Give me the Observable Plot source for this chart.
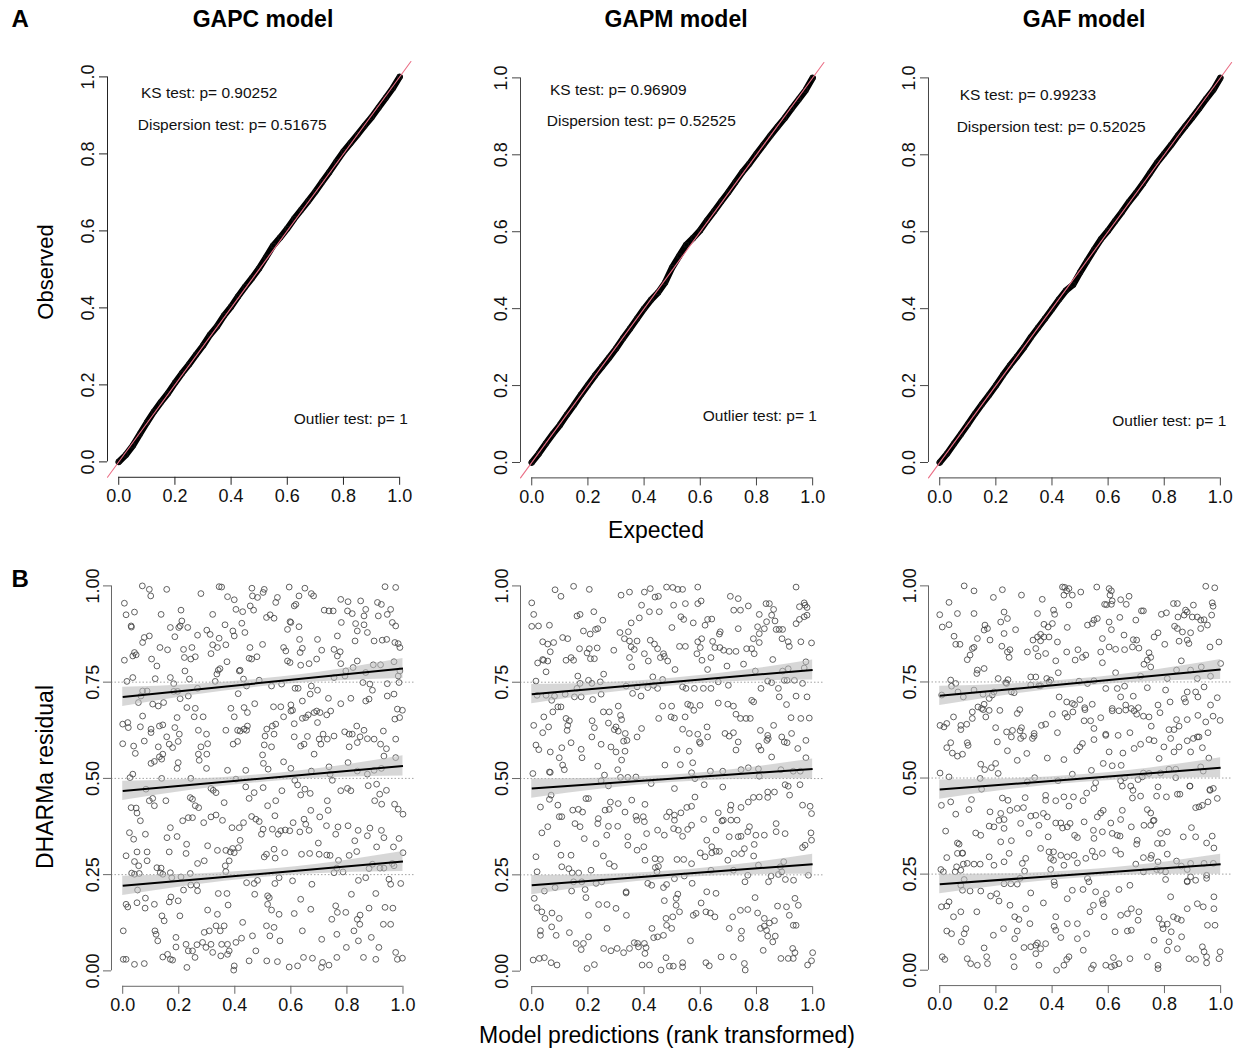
<!DOCTYPE html>
<html><head><meta charset="utf-8">
<script src="https://cdn.jsdelivr.net/npm/d3@7"></script>
<script src="https://cdn.jsdelivr.net/npm/@observablehq/plot@0.6"></script>
<style>
body{margin:0;background:#fff;}
#fig{position:relative;width:1237px;height:1059px;overflow:hidden;background:#fff;}
#fig svg{position:absolute;}
</style></head><body><div id="fig"></div>
<script>
// ---------------- DATA ----------------
const models = ["GAPC model", "GAPM model", "GAF model"];
const ksP = ["0.90252", "0.96909", "0.99233"];
const dispP = ["0.51675", "0.52525", "0.52025"];
const outlierP = ["1", "1", "1"];

const xTicks = [0, 0.2, 0.4, 0.6, 0.8, 1.0];
const yTicksTop = [0, 0.2, 0.4, 0.6, 0.8, 1.0];
const yTicksBottom = [0, 0.25, 0.5, 0.75, 1.0];
const quantiles = [0.25, 0.5, 0.75];

const qqExpected = [0,0.025,0.05,0.075,0.1,0.125,0.15,0.175,0.2,0.225,0.25,0.275,0.3,0.325,0.35,0.375,0.4,0.425,0.45,0.475,0.5,0.525,0.55,0.575,0.6,0.625,0.65,0.675,0.7,0.725,0.75,0.775,0.8,0.825,0.85,0.875,0.9,0.925,0.95,0.975,1];
const qqObsGAPC = [0,.018,.042,.072,.102,.13,.155,.178,.205,.23,.253,.278,.302,.33,.352,.38,.403,.43,.455,.478,.503,.532,.562,.583,.606,.632,.655,.678,.702,.728,.753,.78,.806,.828,.85,.873,.895,.92,.945,.97,1.0];
const qqObsGAPM = [0,.023,.049,.074,.097,.124,.149,.176,.201,.226,.249,.272,.296,.323,.348,.374,.400,.423,.442,.468,.507,.537,.566,.584,.604,.630,.654,.679,.703,.729,.755,.777,.802,.826,.850,.873,.895,.92,.944,.968,1.0];
const qqObsGAF = [0,.022,.048,.073,.099,.126,.151,.175,.2,.227,.252,.275,.299,.326,.35,.374,.399,.424,.447,.462,.494,.524,.553,.581,.603,.628,.652,.678,.701,.726,.753,.78,.803,.826,.851,.874,.897,.921,.946,.969,1.0];

// Quantile regression lines: fitted value at x=0 and x=1 for q = .25, .5, .75
const qStartGAPC = [0.221, 0.4675, 0.7117], qEndGAPC = [0.284, 0.5325, 0.7853];
const qStartGAPM = [0.2232, 0.474, 0.7189], qEndGAPM = [0.2777, 0.525, 0.782];
const qStartGAF  = [0.2238, 0.4701, 0.7138], qEndGAF  = [0.2758, 0.5265, 0.7823];
// confidence band half-width along x
const bandX = [0, 0.25, 0.5, 0.75, 1];
const bandHalf = [0.025, 0.014, 0.010, 0.014, 0.026];

// DHARMa scaled residuals vs rank-transformed predictions
const resGAPC = [[.07,1.0],[.095,.991],[.10,.974],[.157,.991],[.279,.98],[.344,.998],[.353,.997],[.374,.972],[.398,.964],[.461,.994],[.463,.974],[.481,.97],[.505,.991],[.501,.983],[.546,.957],[.552,.97],[.594,.997],[.629,.974],[.65,.994],[.673,.98],[.681,.974],[.778,.965],[.804,.959],[.849,.961],[.909,.957],[.923,.952],[.936,.998],[.974,.996],[.006,.955],
[.012,.925],[.042,.932],[.03,.896],[.031,.893],[.137,.926],[.208,.937],[.321,.926],[.404,.939],[.428,.933],[.455,.948],[.467,.937],[.513,.918],[.526,.925],[.54,.916],[.612,.948],[.618,.952],[.597,.907],[.6,.905],[.719,.937],[.736,.935],[.751,.935],[.802,.935],[.819,.928],[.867,.939],[.861,.922],[.912,.922],[.944,.926],[.956,.939],[.962,.905],[.974,.896],[.211,.909],[.205,.896],
[.17,.892],[.2,.892],[.232,.892],[.3,.885],[.312,.874],[.344,.864],[.365,.899],[.393,.883],[.398,.87],[.425,.903],[.436,.879],[.588,.887],[.629,.894],[.78,.905],[.831,.902],[.837,.883],[.861,.899],[.873,.879],[.897,.857],[.926,.859],[.942,.861],[.971,.853],[.983,.85],[.077,.866],[.095,.87],[.186,.868],[.267,.872],[.071,.853],[.631,.861],[.695,.861],[.766,.87],[.829,.857],
[.006,.807],[.036,.818],[.042,.827],[.048,.821],[.103,.81],[.122,.792],[.133,.84],[.16,.834],[.217,.835],[.22,.814],[.247,.84],[.243,.81],[.259,.816],[.315,.824],[.321,.847],[.338,.84],[.368,.847],[.372,.803],[.416,.779],[.419,.781],[.454,.84],[.451,.812],[.46,.81],[.479,.816],[.499,.848],[.574,.84],[.582,.831],[.588,.805],[.597,.801],[.633,.827],[.641,.838],[.635,.794],[.665,.798],[.692,.81],[.71,.833],[.754,.835],[.766,.818],[.776,.829],[.778,.798],[.837,.805],[.894,.795],[.92,.795],[.968,.803],[.989,.84],
[.015,.752],[.036,.762],[.116,.759],[.17,.762],[.182,.746],[.222,.779],[.238,.758],[.33,.752],[.336,.771],[.341,.781],[.347,.785],[.431,.758],[.442,.74],[.487,.755],[.531,.74],[.567,.745],[.615,.734],[.626,.734],[.673,.74],[.754,.762],[.793,.766],[.796,.779],[.822,.788],[.867,.775],[.857,.749],[.882,.745],[.944,.746],[.986,.749],[.983,.766],[.989,.779],
[.071,.727],[.087,.727],[.065,.714],[.056,.697],[.107,.693],[.127,.688],[.146,.697],[.182,.726],[.196,.726],[.205,.707],[.234,.714],[.267,.734],[.412,.72],[.471,.694],[.538,.686],[.564,.686],[.6,.691],[.606,.677],[.641,.701],[.669,.719],[.695,.729],[.734,.708],[.778,.694],[.814,.708],[.867,.701],[.879,.706],[.891,.729],[.944,.714],[.968,.719],[.998,.677],[.229,.684],[.259,.682],[.386,.682],[.433,.684],[.445,.671],
[.071,.662],[.0,.641],[.018,.645],[.02,.632],[.063,.634],[.101,.628],[.131,.636],[.143,.639],[.157,.608],[.186,.632],[.194,.658],[.255,.66],[.287,.66],[.27,.625],[.299,.615],[.368,.625],[.398,.66],[.419,.623],[.445,.636],[.442,.625],[.514,.628],[.534,.636],[.546,.641],[.574,.66],[.6,.675],[.612,.642],[.641,.656],[.653,.658],[.662,.665],[.683,.671],[.692,.675],[.704,.671],[.728,.665],[.742,.675],[.695,.645],[.659,.609],[.715,.615],[.808,.615],[.819,.615],[.835,.636],[.792,.621],[.861,.625],[.847,.608],[.93,.623],[.971,.654],[.988,.658],[.98,.68],
[.0,.59],[.039,.584],[.045,.565],[.077,.597],[.101,.619],[.127,.582],[.131,.556],[.166,.589],[.178,.58],[.198,.596],[.202,.615],[.279,.582],[.303,.59],[.3,.563],[.27,.563],[.273,.547],[.394,.589],[.41,.596],[.41,.625],[.433,.628],[.508,.61],[.505,.587],[.531,.582],[.54,.615],[.612,.608],[.635,.584],[.647,.589],[.683,.563],[.701,.602],[.707,.589],[.73,.602],[.754,.61],[.808,.582],[.837,.593],[.873,.603],[.897,.602],[.92,.589],[.941,.577],[.974,.602],[.974,.554],[.143,.563],[.139,.55],[.113,.544],[.101,.539],
[.036,.511],[.026,.502],[.139,.5],[.198,.541],[.194,.526],[.243,.5],[.299,.526],[.374,.521],[.404,.498],[.439,.521],[.499,.561],[.502,.539],[.519,.524],[.574,.543],[.6,.526],[.614,.495],[.673,.519],[.736,.53],[.74,.511],[.748,.495],[.804,.541],[.837,.519],[.873,.511],[.897,.521],[.923,.526],[.932,.558],[.083,.472],
[.03,.424],[.048,.423],[.051,.41],[.095,.442],[.107,.448],[.113,.429],[.154,.442],[.241,.45],[.249,.446],[.259,.429],[.271,.424],[.315,.474],[.323,.469],[.333,.463],[.362,.437],[.439,.478],[.451,.448],[.469,.463],[.501,.476],[.517,.429],[.546,.442],[.568,.468],[.624,.483],[.635,.457],[.65,.472],[.669,.461],[.73,.442],[.778,.468],[.802,.474],[.814,.468],[.876,.481],[.906,.485],[.941,.469],[.917,.459],[.899,.442],[.924,.433],[.97,.433],[.983,.42],[1.0,.407],
[.063,.39],[.024,.359],[.039,.342],[.081,.355],[.158,.346],[.17,.372],[.194,.349],[.214,.39],[.234,.398],[.249,.398],[.289,.385],[.315,.4],[.333,.405],[.356,.391],[.39,.372],[.431,.385],[.46,.401],[.475,.394],[.487,.388],[.501,.368],[.495,.355],[.534,.368],[.543,.403],[.555,.355],[.564,.364],[.58,.366],[.596,.364],[.608,.385],[.647,.394],[.653,.381],[.665,.365],[.671,.417],[.703,.4],[.733,.417],[.727,.377],[.768,.374],[.804,.377],[.84,.365],[.882,.371],[.923,.365],[.873,.351],[.932,.346],[.986,.344],[.76,.355],[.632,.361],[.416,.372],
[.012,.299],[.051,.309],[.057,.273],[.042,.284],[.087,.286],[.087,.309],[.166,.309],[.228,.329],[.226,.305],[.267,.279],[.291,.286],[.303,.325],[.338,.313],[.368,.313],[.384,.309],[.392,.318],[.38,.286],[.398,.307],[.413,.32],[.419,.339],[.505,.296],[.513,.303],[.54,.316],[.544,.293],[.578,.307],[.638,.303],[.667,.305],[.698,.332],[.701,.303],[.728,.301],[.74,.3],[.77,.287],[.808,.3],[.835,.31],[.828,.338],[.906,.322],[.966,.322],[1.0,.307],[.962,.279],[.932,.267],[.968,.273],[.918,.267],[.891,.277],
[.032,.254],[.042,.251],[.059,.253],[.122,.268],[.137,.267],[.134,.255],[.143,.251],[.17,.255],[.175,.242],[.208,.244],[.241,.253],[.243,.223],[.264,.223],[.267,.208],[.368,.258],[.366,.273],[.442,.229],[.469,.227],[.481,.235],[.517,.195],[.543,.227],[.558,.242],[.606,.234],[.675,.225],[.754,.255],[.764,.267],[.786,.257],[.841,.235],[.867,.242],[.879,.266],[.95,.238],[.956,.225],[.992,.227],[.053,.21],[.217,.21],
[.018,.166],[.012,.173],[.051,.177],[.081,.189],[.08,.163],[.113,.173],[.14,.143],[.148,.13],[.166,.179],[.172,.192],[.198,.182],[.204,.143],[.303,.158],[.341,.201],[.372,.201],[.376,.171],[.338,.147],[.428,.126],[.471,.199],[.523,.19],[.517,.173],[.531,.158],[.558,.147],[.612,.149],[.635,.186],[.671,.16],[.746,.134],[.76,.169],[.766,.152],[.796,.152],[.816,.199],[.879,.163],[.903,.201],[.936,.165],[.964,.163],[.837,.134],[.847,.145],
[.002,.104],[.042,.017],[.115,.104],[.119,.095],[.125,.078],[.19,.087],[.19,.062],[.226,.069],[.234,.052],[.258,.035],[.265,.068],[.291,.1],[.309,.104],[.333,.117],[.362,.117],[.348,.104],[.285,.074],[.315,.069],[.321,.048],[.353,.069],[.38,.052],[.404,.074],[.424,.085],[.398,.013],[.396,.002],[.463,.091],[.475,.052],[.513,.117],[.525,.091],[.54,.113],[.561,.078],[.641,.104],[.71,.082],[.713,.022],[.709,.009],[.764,.095],[.798,.061],[.825,.104],[.841,.078],[.846,.121],[.887,.087],[.914,.061],[.93,.121],[.956,.121],[.974,.048],[.98,.03],[.998,.033],[.002,.03],[.012,.03],[.077,.019],[.16,.043],[.17,.03],[.178,.028],[.229,.009],[.297,.061],[.35,.039],[.374,.043],[.374,.069],[.451,.026],[.514,.026],[.552,.024],[.594,.01],[.624,.013],[.645,.035],[.677,.033],[.736,.015],[.764,.035],[.859,.035],[.903,.03],[.143,.036],[.249,.052]];

const resGAPM = [[.083,.99],[.104,.973],[.149,.999],[.205,.991],[.318,.976],[.348,.984],[.401,.984],[.422,.993],[.439,.971],[.451,.973],[.48,.997],[.502,.996],[.52,.991],[.537,.991],[.591,.997],[.591,.954],[.603,.961],[.707,.973],[.735,.967],[.771,.948],[.834,.954],[.846,.954],[.941,.997],[.0,.956],[.97,.956],[.973,.95],
[.007,.926],[.0,.895],[.024,.896],[.063,.898],[.161,.922],[.172,.926],[.221,.933],[.253,.911],[.235,.889],[.227,.887],[.184,.883],[.208,.875],[.391,.95],[.419,.933],[.454,.933],[.505,.95],[.547,.954],[.531,.92],[.541,.913],[.499,.892],[.575,.904],[.617,.898],[.626,.913],[.641,.914],[.719,.937],[.743,.937],[.671,.881],[.668,.875],[.81,.926],[.804,.894],[.836,.907],[.854,.924],[.861,.939],[.866,.909],[.893,.887],[.87,.887],[.941,.902],[.953,.913],[.97,.92],[.98,.924],[.953,.946],[.98,.944],[.314,.879],[.344,.881],[.354,.904],[.383,.917],
[.039,.855],[.057,.849],[.078,.853],[.066,.829],[.11,.866],[.128,.863],[.17,.837],[.197,.826],[.205,.837],[.233,.839],[.292,.833],[.33,.863],[.348,.857],[.354,.842],[.365,.835],[.375,.857],[.348,.814],[.401,.824],[.422,.859],[.437,.849],[.469,.824],[.448,.837],[.472,.817],[.526,.843],[.547,.843],[.591,.855],[.6,.84],[.605,.863],[.644,.856],[.652,.84],[.67,.84],[.683,.833],[.703,.83],[.727,.83],[.735,.889],[.765,.837],[.783,.837],[.789,.863],[.81,.853],[.81,.876],[.828,.889],[.881,.887],[.891,.863],[.917,.843],[.958,.855],[.996,.852],[.913,.855],[.039,.809],
[.021,.8],[.042,.807],[.057,.805],[.051,.777],[.122,.807],[.14,.814],[.149,.807],[.164,.766],[.209,.811],[.223,.811],[.202,.755],[.244,.751],[.256,.771],[.356,.79],[.415,.805],[.458,.814],[.484,.805],[.51,.783],[.588,.824],[.606,.807],[.626,.783],[.638,.814],[.695,.792],[.754,.797],[.792,.824],[.796,.779],[.858,.809],[.899,.755],[.893,.779],[.913,.785],[.935,.755],[.97,.787],[.976,.803],[.015,.753],[.172,.747],[.214,.747],[.431,.764],[.466,.757],
[.019,.716],[.051,.716],[.071,.703],[.081,.714],[.161,.734],[.176,.712],[.217,.705],[.247,.719],[.336,.74],[.359,.721],[.375,.738],[.389,.714],[.413,.736],[.434,.742],[.448,.734],[.537,.738],[.549,.734],[.579,.734],[.611,.734],[.638,.734],[.664,.751],[.7,.742],[.783,.703],[.79,.699],[.816,.734],[.84,.753],[.854,.749],[.881,.712],[.878,.734],[.909,.755],[.907,.692],[.941,.714],[.964,.747],[.98,.712],[.119,.719],[.152,.712],[.075,.673],[.093,.686],[.104,.686],[.466,.688],[.498,.688],[.555,.693],[.565,.69],[.577,.677],[.599,.69],[.664,.696],[.698,.693],[.718,.688],
[.007,.638],[.043,.66],[.06,.634],[.039,.619],[.122,.656],[.134,.65],[.128,.638],[.126,.625],[.14,.593],[.215,.65],[.255,.673],[.276,.673],[.273,.644],[.308,.688],[.316,.664],[.32,.653],[.3,.634],[.308,.623],[.333,.617],[.375,.608],[.391,.63],[.452,.656],[.496,.66],[.508,.657],[.546,.66],[.537,.628],[.561,.617],[.591,.615],[.597,.595],[.624,.634],[.626,.608],[.688,.617],[.718,.619],[.727,.667],[.743,.656],[.763,.656],[.778,.656],[.814,.625],[.84,.612],[.842,.604],[.861,.638],[.89,.608],[.909,.593],[.925,.617],[.923,.658],[.958,.656],[.988,.657],[.976,.599],[.223,.632],[.214,.608],[.247,.589],[.294,.627],
[.015,.587],[.025,.575],[.066,.569],[.107,.58],[.098,.554],[.11,.535],[.116,.523],[.176,.576],[.179,.554],[.063,.517],[.282,.582],[.3,.569],[.332,.571],[.327,.597],[.339,.599],[.517,.575],[.561,.571],[.6,.591],[.703,.61],[.727,.574],[.735,.595],[.808,.584],[.816,.574],[.837,.599],[.854,.556],[.899,.595],[.947,.578],[.976,.554],[.306,.523],[.32,.548],[.235,.532],
[.004,.513],[.066,.516],[.247,.494],[.259,.509],[.273,.481],[.316,.503],[.342,.503],[.371,.504],[.425,.487],[.474,.535],[.529,.536],[.569,.515],[.573,.541],[.581,.5],[.614,.484],[.636,.519],[.68,.519],[.68,.478],[.745,.523],[.771,.528],[.807,.525],[.81,.506],[.887,.523],[.931,.519],[.956,.519],[.955,.484],[.508,.474],
[.069,.457],[.031,.426],[.063,.446],[.093,.431],[.098,.401],[.146,.418],[.166,.42],[.181,.413],[.193,.448],[.202,.448],[.237,.396],[.261,.418],[.28,.439],[.276,.42],[.308,.435],[.332,.413],[.356,.444],[.403,.433],[.371,.402],[.397,.401],[.49,.413],[.508,.405],[.48,.401],[.508,.392],[.531,.411],[.552,.425],[.569,.428],[.581,.452],[.664,.411],[.677,.39],[.709,.431],[.707,.418],[.745,.425],[.771,.439],[.789,.451],[.81,.452],[.84,.451],[.84,.465],[.864,.465],[.902,.484],[.913,.48],[.918,.457],[.964,.431],[.991,.428],[.996,.409],
[.036,.359],[.057,.375],[.107,.401],[.154,.383],[.172,.375],[.187,.344],[.235,.383],[.267,.353],[.273,.376],[.306,.376],[.342,.349],[.374,.392],[.401,.388],[.409,.357],[.448,.366],[.472,.353],[.505,.37],[.522,.366],[.555,.368],[.537,.35],[.569,.379],[.612,.394],[.623,.34],[.682,.392],[.709,.392],[.731,.392],[.745,.35],[.769,.362],[.775,.375],[.798,.353],[.828,.353],[.87,.362],[.902,.357],[.87,.383],[.994,.359],[.996,.34],[.656,.366],[.703,.349],[.735,.349],
[.015,.297],[.09,.331],[.104,.301],[.14,.301],[.229,.331],[.255,.299],[.276,.279],[.294,.272],[.342,.327],[.375,.314],[.399,.323],[.403,.288],[.439,.292],[.458,.29],[.451,.272],[.517,.29],[.541,.29],[.569,.279],[.6,.307],[.617,.297],[.641,.323],[.641,.307],[.656,.311],[.668,.311],[.698,.288],[.721,.305],[.747,.305],[.757,.318],[.79,.299],[.885,.271],[.897,.284],[.792,.329],[.973,.327],[.964,.321],
[.019,.258],[.045,.208],[.083,.217],[.107,.271],[.132,.266],[.149,.232],[.144,.255],[.142,.208],[.167,.255],[.178,.232],[.19,.212],[.211,.262],[.229,.228],[.249,.232],[.336,.206],[.413,.228],[.427,.223],[.44,.269],[.469,.217],[.48,.225],[.508,.24],[.543,.247],[.571,.228],[.638,.262],[.718,.262],[.759,.232],[.769,.249],[.807,.275],[.843,.232],[.852,.247],[.878,.251],[.89,.258],[.903,.238],[.932,.236],[.985,.249],[.446,.258],
[.009,.189],[.019,.165],[.036,.154],[.047,.137],[.072,.151],[.098,.137],[.193,.191],[.202,.145],[.238,.173],[.268,.173],[.3,.163],[.336,.203],[.337,.145],[.472,.183],[.52,.2],[.514,.189],[.514,.171],[.526,.154],[.502,.141],[.575,.145],[.603,.177],[.585,.15],[.62,.154],[.636,.151],[.652,.141],[.715,.141],[.743,.158],[.769,.16],[.795,.191],[.623,.206],[.656,.202],[.804,.151],[.828,.137],[.846,.125],[.875,.169],[.907,.167],[.917,.145],[.937,.189],[.949,.171],[.864,.131],
[.031,.105],[.031,.093],[.071,.115],[.087,.093],[.134,.1],[.158,.072],[.176,.056],[.184,.072],[.202,.089],[.223,.017],[.197,.007],[.256,.059],[.268,.111],[.282,.053],[.304,.059],[.327,.048],[.348,.059],[.365,.074],[.377,.072],[.38,.063],[.401,.072],[.407,.061],[.403,.046],[.393,.016],[.419,.016],[.428,.111],[.434,.087],[.448,.089],[.478,.137],[.469,.093],[.48,.119],[.498,.111],[.49,.013],[.478,.035],[.46,.003],[.504,.013],[.537,.022],[.537,.011],[.565,.079],[.62,.022],[.632,.014],[.674,.037],[.718,.037],[.703,.111],[.747,.104],[.745,.085],[.757,.02],[.76,.003],[.814,.111],[.828,.117],[.836,.106],[.84,.091],[.858,.076],[.867,.091],[.824,.054],[.887,.033],[.913,.033],[.931,.033],[.929,.059],[.937,.048],[.941,.119],[.931,.119],[.982,.016],[.996,.027],[1.0,.048],[.005,.029],[.027,.033],[.045,.035],[.069,.022],[.09,.016]];

const resGAF = [[.087,1.0],[.122,.987],[.191,.97],[.223,.99],[.291,.976],[.365,.965],[.437,.997],[.445,.996],[.46,.993],[.452,.987],[.442,.976],[.472,.976],[.502,.984],[.559,.997],[.603,.993],[.611,.987],[.606,.976],[.587,.952],[.614,.961],[.674,.973],[.644,.964],[.033,.957],[.0,.925],[.063,.928],[.122,.928],[.947,.999],[.979,.995],[.832,.954],[.846,.954],[.97,.956],[.903,.95],[.875,.937],
[.009,.893],[.033,.899],[.051,.869],[.161,.898],[.17,.889],[.158,.885],[.217,.906],[.241,.915],[.229,.932],[.27,.886],[.348,.928],[.371,.9],[.386,.893],[.401,.902],[.405,.937],[.409,.926],[.46,.95],[.454,.892],[.526,.898],[.543,.902],[.549,.911],[.561,.915],[.603,.906],[.611,.886],[.594,.951],[.611,.952],[.664,.952],[.641,.918],[.698,.911],[.718,.935],[.725,.935],[.789,.926],[.807,.93],[.836,.895],[.848,.919],[.87,.924],[.881,.932],[.899,.919],[.917,.919],[.929,.911],[.941,.912],[.953,.898],[.968,.924],[.973,.947],[.846,.889],[.864,.88],[.777,.878],[.763,.867],[.701,.859],
[.057,.848],[.072,.848],[.098,.808],[.108,.82],[.116,.837],[.122,.84],[.134,.863],[.179,.859],[.221,.843],[.229,.876],[.25,.834],[.241,.828],[.247,.814],[.312,.828],[.332,.859],[.342,.837],[.348,.867],[.359,.857],[.359,.874],[.371,.867],[.389,.867],[.35,.817],[.377,.824],[.413,.805],[.419,.854],[.452,.828],[.492,.834],[.482,.807],[.508,.814],[.52,.82],[.573,.828],[.579,.863],[.603,.841],[.626,.835],[.656,.872],[.658,.834],[.689,.86],[.686,.841],[.709,.838],[.745,.826],[.727,.796],[.739,.807],[.751,.814],[.801,.848],[.852,.856],[.881,.859],[.887,.85],[.893,.878],[.929,.889],[.962,.841],[.994,.854],[1.0,.798],[.579,.8],
[.134,.781],[.158,.785],[.132,.772],[.208,.759],[.238,.746],[.243,.756],[.324,.763],[.342,.763],[.353,.74],[.381,.759],[.395,.755],[.422,.774],[.496,.752],[.526,.746],[.549,.753],[.626,.774],[.715,.765],[.751,.789],[.81,.759],[.843,.781],[.86,.805],[.893,.781],[.917,.759],[.931,.789],[.964,.765],[.039,.755],[.042,.739],[.057,.746],
[.007,.716],[.065,.724],[.084,.711],[.122,.729],[.154,.718],[.176,.707],[.187,.716],[.193,.724],[.235,.748],[.255,.724],[.265,.722],[.324,.742],[.359,.74],[.389,.75],[.425,.711],[.452,.698],[.472,.694],[.48,.691],[.516,.683],[.499,.704],[.543,.692],[.591,.733],[.614,.681],[.632,.733],[.658,.739],[.644,.711],[.662,.69],[.689,.713],[.682,.681],[.707,.683],[.739,.735],[.777,.69],[.804,.729],[.82,.698],[.875,.698],[.881,.724],[.87,.707],[.911,.724],[.919,.711],[.964,.69],[.988,.709],[.941,.737],
[.001,.637],[.015,.633],[.025,.642],[.049,.659],[.075,.637],[.075,.626],[.096,.64],[.116,.655],[.116,.672],[.136,.685],[.155,.678],[.158,.692],[.176,.676],[.149,.681],[.164,.659],[.214,.676],[.199,.631],[.238,.62],[.259,.624],[.285,.678],[.276,.668],[.286,.623],[.291,.631],[.336,.609],[.362,.637],[.377,.64],[.419,.618],[.401,.666],[.446,.668],[.474,.672],[.517,.678],[.514,.649],[.537,.649],[.573,.657],[.591,.614],[.614,.675],[.638,.675],[.677,.618],[.662,.677],[.692,.675],[.701,.666],[.725,.661],[.745,.659],[.753,.635],[.784,.67],[.816,.626],[.834,.626],[.843,.652],[.852,.635],[.881,.652],[.919,.663],[.923,.607],[.947,.646],[.973,.661],[.998,.65],[.955,.618],[.454,.659],
[.025,.579],[.039,.592],[.045,.565],[.063,.557],[.081,.562],[.098,.592],[.101,.585],[.205,.594],[.241,.571],[.255,.607],[.276,.546],[.288,.603],[.298,.609],[.31,.564],[.336,.616],[.33,.603],[.383,.552],[.442,.548],[.488,.571],[.499,.581],[.508,.59],[.549,.6],[.549,.629],[.591,.611],[.603,.568],[.635,.611],[.652,.565],[.692,.577],[.715,.588],[.745,.6],[.763,.597],[.781,.551],[.798,.581],[.822,.603],[.834,.568],[.852,.581],[.881,.597],[.903,.603],[.917,.607],[.935,.579],[.958,.552],[.893,.568],
[.001,.513],[.033,.503],[.146,.536],[.16,.522],[.184,.527],[.199,.538],[.208,.512],[.144,.499],[.149,.471],[.312,.49],[.338,.501],[.421,.493],[.472,.51],[.54,.52],[.555,.488],[.582,.538],[.614,.532],[.646,.533],[.644,.493],[.65,.479],[.658,.501],[.68,.479],[.688,.468],[.706,.496],[.721,.503],[.725,.513],[.745,.512],[.777,.477],[.786,.513],[.816,.523],[.84,.523],[.84,.501],[.891,.479],[.929,.529],[.938,.518],[.962,.47],[.974,.473],
[.006,.429],[.039,.438],[.057,.406],[.104,.418],[.113,.444],[.179,.412],[.217,.408],[.223,.448],[.229,.392],[.243,.442],[.25,.416],[.276,.421],[.298,.423],[.304,.449],[.324,.401],[.342,.403],[.369,.408],[.377,.455],[.377,.442],[.383,.399],[.413,.441],[.442,.451],[.46,.427],[.476,.451],[.51,.441],[.523,.461],[.549,.473],[.561,.399],[.573,.409],[.582,.416],[.609,.383],[.644,.392],[.65,.416],[.686,.448],[.715,.453],[.739,.418],[.751,.409],[.76,.389],[.772,.453],[.807,.451],[.846,.458],[.855,.458],[.89,.479],[.911,.423],[.923,.425],[.935,.429],[.955,.438],[.962,.468],[.988,.447],
[.021,.362],[.063,.331],[.069,.328],[.081,.304],[.128,.357],[.146,.351],[.176,.375],[.193,.373],[.211,.39],[.217,.334],[.229,.369],[.255,.337],[.288,.382],[.318,.356],[.353,.377],[.386,.347],[.413,.383],[.431,.383],[.437,.37],[.454,.373],[.464,.382],[.48,.351],[.49,.345],[.514,.386],[.547,.364],[.549,.343],[.579,.36],[.614,.356],[.632,.351],[.642,.349],[.682,.373],[.703,.338],[.727,.377],[.751,.377],[.763,.39],[.786,.356],[.81,.36],[.775,.33],[.867,.347],[.896,.371],[.911,.347],[.97,.349],[.976,.318],[.95,.331],
[.025,.293],[.063,.304],[.081,.305],[.075,.26],[.084,.276],[.06,.269],[.098,.278],[.122,.276],[.144,.276],[.176,.295],[.193,.273],[.229,.282],[.247,.304],[.294,.278],[.306,.291],[.302,.258],[.359,.317],[.389,.308],[.395,.291],[.405,.308],[.405,.286],[.431,.299],[.442,.273],[.454,.295],[.478,.299],[.49,.279],[.52,.291],[.543,.31],[.553,.295],[.579,.304],[.626,.312],[.644,.302],[.701,.328],[.725,.293],[.751,.291],[.754,.299],[.698,.276],[.777,.282],[.792,.33],[.81,.302],[.843,.284],[.86,.271],[.881,.262],[.893,.278],[.941,.278],[.974,.278],[.786,.26],[.881,.232],
[.004,.262],[.013,.256],[.055,.256],[.087,.236],[.075,.221],[.081,.208],[.108,.206],[.146,.206],[.181,.193],[.203,.199],[.229,.225],[.253,.225],[.276,.224],[.286,.239],[.324,.201],[.395,.262],[.407,.23],[.409,.221],[.454,.186],[.472,.208],[.51,.21],[.526,.239],[.531,.23],[.555,.204],[.579,.182],[.593,.199],[.638,.21],[.677,.221],[.725,.256],[.772,.262],[.804,.256],[.804,.236],[.822,.191],[.881,.23],[.893,.243],[.911,.234],[.95,.247],[.95,.239],[.976,.191],
[.006,.165],[.025,.167],[.033,.178],[.049,.139],[.075,.152],[.132,.152],[.211,.18],[.25,.169],[.267,.139],[.282,.132],[.306,.16],[.321,.121],[.369,.175],[.413,.139],[.454,.121],[.49,.121],[.535,.152],[.547,.169],[.582,.173],[.585,.139],[.624,.1],[.644,.143],[.668,.147],[.682,.16],[.709,.152],[.706,.13],[.682,.104],[.668,.102],[.781,.134],[.792,.119],[.81,.12],[.832,.139],[.846,.134],[.86,.13],[.881,.16],[.917,.173],[.938,.165],[.976,.16],[.953,.117],[.98,.117],[.795,.108],
[.025,.102],[.042,.095],[.093,.108],[.087,.095],[.077,.074],[.098,.03],[.11,.017],[.134,.013],[.158,.058],[.17,.017],[.167,.035],[.191,.091],[.227,.108],[.267,.082],[.276,.102],[.262,.035],[.324,.061],[.348,.071],[.359,.056],[.377,.069],[.342,.065],[.3,.059],[.342,.043],[.407,.114],[.413,.104],[.431,.085],[.452,.028],[.46,.035],[.442,.013],[.49,.082],[.511,.052],[.523,.095],[.547,.013],[.591,.013],[.611,.009],[.623,.013],[.638,.017],[.618,.033],[.677,.03],[.739,.035],[.763,.078],[.777,.013],[.777,.004],[.816,.074],[.824,.1],[.81,.052],[.861,.087],[.846,.056],[.887,.03],[.911,.028],[.935,.061],[.941,.048],[.95,.035],[.95,.019],[.998,.048],[.994,.03],[.009,.035],[.018,.028],[.265,.009],[.353,.013],[.416,.0],[.54,.004]];

// ---------------- LAYOUT / STYLE ----------------
const FONT = '"Liberation Sans", Arial, Helvetica, sans-serif';
const fig = document.getElementById("fig");
const DOM = [-0.04, 1.04];

function place(L, R, T, B, marks) {
  const ML = 50, MR = 5, MT = 5, MB = 35;
  const w = ML + (R - L) + MR, h = MT + (B - T) + MB;
  const svg = Plot.plot({
    width: w, height: h,
    marginLeft: ML, marginRight: MR, marginTop: MT, marginBottom: MB,
    x: {domain: DOM}, y: {domain: DOM},
    style: {fontFamily: FONT, fontSize: "18px", background: "transparent", overflow: "visible", color: "#111"},
    marks
  });
  svg.style.position = "absolute";
  svg.style.left = (L - ML) + "px";
  svg.style.top = (T - MT) + "px";
  fig.appendChild(svg);
}

function axesMarks(yTicks, yFmt, col, ydx) {
  return [
    Plot.ruleY([DOM[0]], {x1: () => 0, x2: () => 1, stroke: col, strokeWidth: 1}),
    Plot.ruleX([DOM[0]], {y1: () => 0, y2: () => 1, stroke: col, strokeWidth: 1}),
    Plot.axisX({ticks: xTicks, tickSize: 8, tickFormat: () => "", label: null, stroke: col}),
    Plot.axisY({ticks: yTicks, tickSize: 8, tickFormat: () => "", label: null, stroke: col}),
    Plot.text(xTicks, {x: d => d, y: () => DOM[0], text: d => d.toFixed(1), dy: 19, fontSize: 18, lineAnchor: "middle", fill: "#111"}),
    Plot.text(yTicks, {x: () => DOM[0], y: d => d, text: yFmt, rotate: -90, dx: ydx, fontSize: 18, lineAnchor: "middle", fill: "#111"})
  ];
}

// Top row: QQ plots
const qqObs = [qqObsGAPC, qqObsGAPM, qqObsGAF];
const topFrames = [{L: 107.1, R: 410.5, T: 61.3, B: 477.1}, {L: 519.5, R: 822.9, T: 62.3, B: 477.7}, {L: 928.1, R: 1231.2, T: 62.3, B: 477.7}];
const annot = [
  {ks: [0.322, 0.957], disp: [0.404, 0.874], out: [0.826, 0.111]},
  {ks: [0.308, 0.969], disp: [0.39, 0.887], out: [0.812, 0.122]},
  {ks: [0.314, 0.955], disp: [0.397, 0.873], out: [0.818, 0.108]}
];
const topAxisCol = ["#222", "#444", "#444"];

topFrames.forEach((f, i) => {
  const qq = qqExpected.map((e, j) => ({e, o: qqObs[i][j]}));
  const a = annot[i];
  place(f.L, f.R, f.T, f.B, [
    ...axesMarks(yTicksTop, d => d.toFixed(1), topAxisCol[i], -19),
    Plot.line(qq, {x: "e", y: "o", stroke: "#000", strokeWidth: 6.5, strokeLinecap: "round", strokeLinejoin: "round"}),
    Plot.dot(qq, {x: "e", y: "o", symbol: "square", r: 2.4, stroke: "#111", strokeWidth: 1, fill: "none"}),
    Plot.line(DOM.map(v => ({v})), {x: "v", y: "v", stroke: "#ea6f86", strokeWidth: 1.1}),
    Plot.text([`KS test: p= ${ksP[i]}`], {x: () => a.ks[0], y: () => a.ks[1], text: d => d, fontSize: 15.5, fill: "#111"}),
    Plot.text([`Dispersion test: p= ${dispP[i]}`], {x: () => a.disp[0], y: () => a.disp[1], text: d => d, fontSize: 15.5, fill: "#111"}),
    Plot.text([`Outlier test: p= ${outlierP[i]}`], {x: () => a.out[0], y: () => a.out[1], text: d => d, fontSize: 15.5, fill: "#111"})
  ]);
});

// Bottom row: residual vs predicted
const resAll = [resGAPC, resGAPM, resGAF];
const qStarts = [qStartGAPC, qStartGAPM, qStartGAF];
const qEnds = [qEndGAPC, qEndGAPM, qEndGAF];
const botFrames = [{L: 110.5, R: 413.2, T: 569.6, B: 985.4}, {L: 519.5, R: 822.9, T: 570.3, B: 986.4}, {L: 927.8, R: 1231.2, T: 570.3, B: 985.4}];

botFrames.forEach((f, i) => {
  const bands = [];
  quantiles.forEach((q, k) => {
    const s = qStarts[i][k], e = qEnds[i][k];
    bandX.forEach((x, j) => bands.push({q, x, lo: s + (e - s) * x - bandHalf[j], hi: s + (e - s) * x + bandHalf[j]}));
  });
  place(f.L, f.R, f.T, f.B, [
    Plot.dot(resAll[i], {x: d => d[0], y: d => d[1], r: 2.9, stroke: "#444", strokeOpacity: 0.85, strokeWidth: 1, fill: "none"}),
    Plot.ruleY(quantiles, {stroke: "#8a8a8a", strokeWidth: 0.8, strokeDasharray: "1.5,2"}),
    Plot.areaY(bands, {x: "x", y1: "lo", y2: "hi", z: "q", fill: "#bdbdbd", fillOpacity: 0.6, curve: "natural"}),
    Plot.link(quantiles.map((q, k) => k), {x1: () => 0, x2: () => 1, y1: k => qStarts[i][k], y2: k => qEnds[i][k], stroke: "#000", strokeWidth: 2}),
    ...axesMarks(yTicksBottom, d => d.toFixed(2), "#666", -18)
  ]);
});

// Overlay: titles and axis titles
const ov = d3.select(fig).append("svg")
  .attr("width", 1237).attr("height", 1059)
  .style("left", "0px").style("top", "0px").style("pointer-events", "none")
  .style("font-family", FONT);
function txt(x, y, s, o = {}) {
  const t = ov.append("text").attr("x", x).attr("y", y).text(s)
    .attr("text-anchor", o.anchor || "middle")
    .attr("font-size", o.size || 22)
    .attr("font-weight", o.weight || "normal")
    .attr("fill", "#000");
  if (o.rotate) t.attr("transform", `rotate(${o.rotate},${x},${y})`);
  return t;
}
txt(11.5, 27, "A", {anchor: "start", size: 24, weight: "bold"});
txt(11.5, 587, "B", {anchor: "start", size: 24, weight: "bold"});
const titleX = [263, 676, 1084];
models.forEach((m, i) => txt(titleX[i], 27, m, {size: 23, weight: "bold"}));
txt(53, 272, "Observed", {size: 22, rotate: -90});
txt(656, 538, "Expected", {size: 23});
txt(53, 777, "DHARMa residual", {size: 23, rotate: -90});
txt(667, 1043, "Model predictions (rank transformed)", {size: 23});
</script>
</body></html>
